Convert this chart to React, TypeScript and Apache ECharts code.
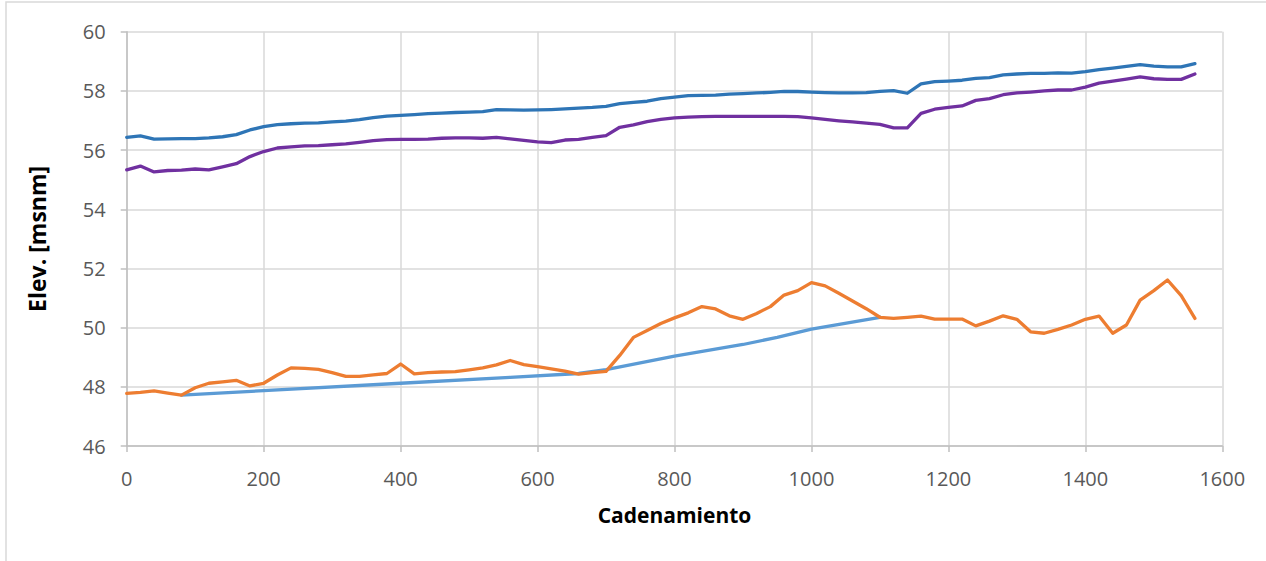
import React, { useEffect, useRef } from "react";
import * as echarts from "echarts";

const chainage = [
  0, 20, 40, 60, 80, 100, 120, 140, 160, 180, 200, 220, 240, 260, 280, 300, 320, 340, 360, 380,
  400, 420, 440, 460, 480, 500, 520, 540, 560, 580, 600, 620, 640, 660, 680, 700, 720, 740, 760, 780,
  800, 820, 840, 860, 880, 900, 920, 940, 960, 980, 1000, 1020, 1040, 1060, 1080, 1100, 1120, 1140, 1160, 1180,
  1200, 1220, 1240, 1260, 1280, 1300, 1320, 1340, 1360, 1380, 1400, 1420, 1440, 1460, 1480, 1500, 1520, 1540, 1560,
];

const upperBlue = [
  56.43, 56.48, 56.37, 56.38, 56.39, 56.39, 56.41, 56.45, 56.52, 56.68, 56.79, 56.86, 56.89, 56.91, 56.92, 56.95, 56.98, 57.03, 57.1, 57.15,
  57.17, 57.2, 57.23, 57.25, 57.27, 57.28, 57.3, 57.37, 57.36, 57.35, 57.36, 57.37, 57.39, 57.42, 57.44, 57.48, 57.57, 57.61, 57.65, 57.74,
  57.79, 57.84, 57.85, 57.86, 57.89, 57.91, 57.93, 57.95, 57.98, 57.98, 57.96, 57.94, 57.93, 57.93, 57.94, 57.98, 58.01, 57.92, 58.24, 58.31,
  58.33, 58.36, 58.42, 58.45, 58.54, 58.57, 58.59, 58.59, 58.61, 58.6, 58.65, 58.72, 58.77, 58.83, 58.89, 58.84, 58.81, 58.81, 58.92,
];

const purple = [
  55.33, 55.46, 55.26, 55.31, 55.32, 55.36, 55.33, 55.43, 55.54, 55.78, 55.95, 56.07, 56.11, 56.14, 56.15, 56.18, 56.21, 56.26, 56.32, 56.35,
  56.36, 56.36, 56.37, 56.4, 56.41, 56.41, 56.4, 56.43, 56.38, 56.33, 56.28, 56.25, 56.34, 56.36, 56.43, 56.49, 56.77, 56.85, 56.96, 57.04,
  57.09, 57.11, 57.13, 57.14, 57.14, 57.14, 57.14, 57.14, 57.14, 57.13, 57.09, 57.04, 56.99, 56.95, 56.91, 56.87, 56.75, 56.75, 57.24, 57.38,
  57.44, 57.49, 57.68, 57.74, 57.87, 57.93, 57.96, 58.0, 58.03, 58.03, 58.13, 58.26, 58.33, 58.4, 58.47, 58.41, 58.39, 58.39, 58.57,
];

const orange = [
  47.78, 47.81, 47.86, 47.79, 47.72, 47.97, 48.12, 48.17, 48.22, 48.03, 48.12, 48.4, 48.64, 48.62, 48.59, 48.48, 48.35, 48.35, 48.4, 48.45,
  48.77, 48.44, 48.48, 48.5, 48.51, 48.57, 48.64, 48.74, 48.89, 48.75, 48.68, 48.61, 48.53, 48.43, 48.48, 48.52, 49.06, 49.67, 49.9, 50.14,
  50.33, 50.5, 50.71, 50.63, 50.4, 50.28, 50.48, 50.71, 51.1, 51.25, 51.52, 51.41, 51.16, 50.9, 50.64, 50.35, 50.31, 50.35, 50.39, 50.29,
  50.29, 50.29, 50.06, 50.22, 50.4, 50.28, 49.86, 49.81, 49.94, 50.09, 50.28, 50.39, 49.81, 50.09, 50.93, 51.25, 51.61, 51.08, 50.31,
];

const gradeChainage = [80, 200, 400, 560, 660, 700, 800, 900, 950, 1000, 1100];
const gradeLevel = [47.72, 47.87, 48.12, 48.32, 48.45, 48.58, 49.04, 49.43, 49.67, 49.95, 50.35];

const xTicks = { min: 0, max: 1600, interval: 200 };
const yTicks = { min: 46, max: 60, interval: 2 };

const pair = (xs: number[], ys: number[]) => xs.map((x, i) => [x, ys[i]]);

export default function App() {
  const ref = useRef<HTMLDivElement>(null);
  useEffect(() => {
    if (!ref.current) return;
    const chart = echarts.init(ref.current, null, { renderer: "svg" });
    const font = "'Open Sans', 'Liberation Sans', sans-serif";
    const lineSeries = (name: string, data: number[][], color: string, z: number) => ({
      name,
      type: "line",
      data,
      showSymbol: false,
      symbol: "none",
      lineStyle: { color, width: 3.3, cap: "round", join: "round" },
      itemStyle: { color },
      z,
    });
    chart.setOption({
      animation: false,
      backgroundColor: "#ffffff",
      textStyle: { fontFamily: font },
      grid: { left: 126.7, right: 43.7, top: 31.7, bottom: 115, containLabel: false },
      graphic: [
        {
          type: "rect",
          shape: { x: 6, y: 2, width: 1300, height: 600 },
          style: { fill: "none", stroke: "#D9D9D9", lineWidth: 1.5 },
          silent: true,
        },
      ],
      xAxis: {
        type: "value",
        min: xTicks.min,
        max: xTicks.max,
        interval: xTicks.interval,
        name: "Cadenamiento",
        nameLocation: "middle",
        nameGap: 58,
        nameTextStyle: { fontFamily: font, fontSize: 21, fontWeight: "bold", color: "#000000" },
        axisLine: { show: true, lineStyle: { color: "#BFBFBF", width: 1.5 } },
        axisTick: { show: true, length: 6, lineStyle: { color: "#BFBFBF", width: 1.5 } },
        axisLabel: {
          fontFamily: font,
          fontSize: 20,
          color: "#595959",
          margin: 22,
          formatter: (v: number) => String(v),
        },
        splitLine: { show: true, lineStyle: { color: "#D9D9D9", width: 1.5 } },
      },
      yAxis: {
        type: "value",
        min: yTicks.min,
        max: yTicks.max,
        interval: yTicks.interval,
        name: "Elev. [msnm]",
        nameLocation: "middle",
        nameGap: 78,
        nameTextStyle: { fontFamily: font, fontSize: 23, fontWeight: "bold", color: "#000000" },
        axisLine: { show: true, lineStyle: { color: "#BFBFBF", width: 1.5 } },
        axisTick: { show: true, length: 6, lineStyle: { color: "#BFBFBF", width: 1.5 } },
        axisLabel: {
          fontFamily: font,
          fontSize: 20,
          color: "#595959",
          margin: 21,
          formatter: (v: number) => String(v),
        },
        splitLine: { show: true, lineStyle: { color: "#D9D9D9", width: 1.5 } },
      },
      series: [
        lineSeries("Rasante superior", pair(chainage, upperBlue), "#2E75B6", 3),
        lineSeries("Rasante 2", pair(chainage, purple), "#7030A0", 3),
        lineSeries("Rasante proyecto", pair(gradeChainage, gradeLevel), "#5B9BD5", 2),
        lineSeries("Terreno", pair(chainage, orange), "#ED7D31", 4),
      ],
    });
    return () => chart.dispose();
  }, []);
  return (
    <div
      ref={ref}
      style={{ position: "absolute", left: 0, top: 0, width: 1266, height: 561, background: "#ffffff" }}
    />
  );
}
